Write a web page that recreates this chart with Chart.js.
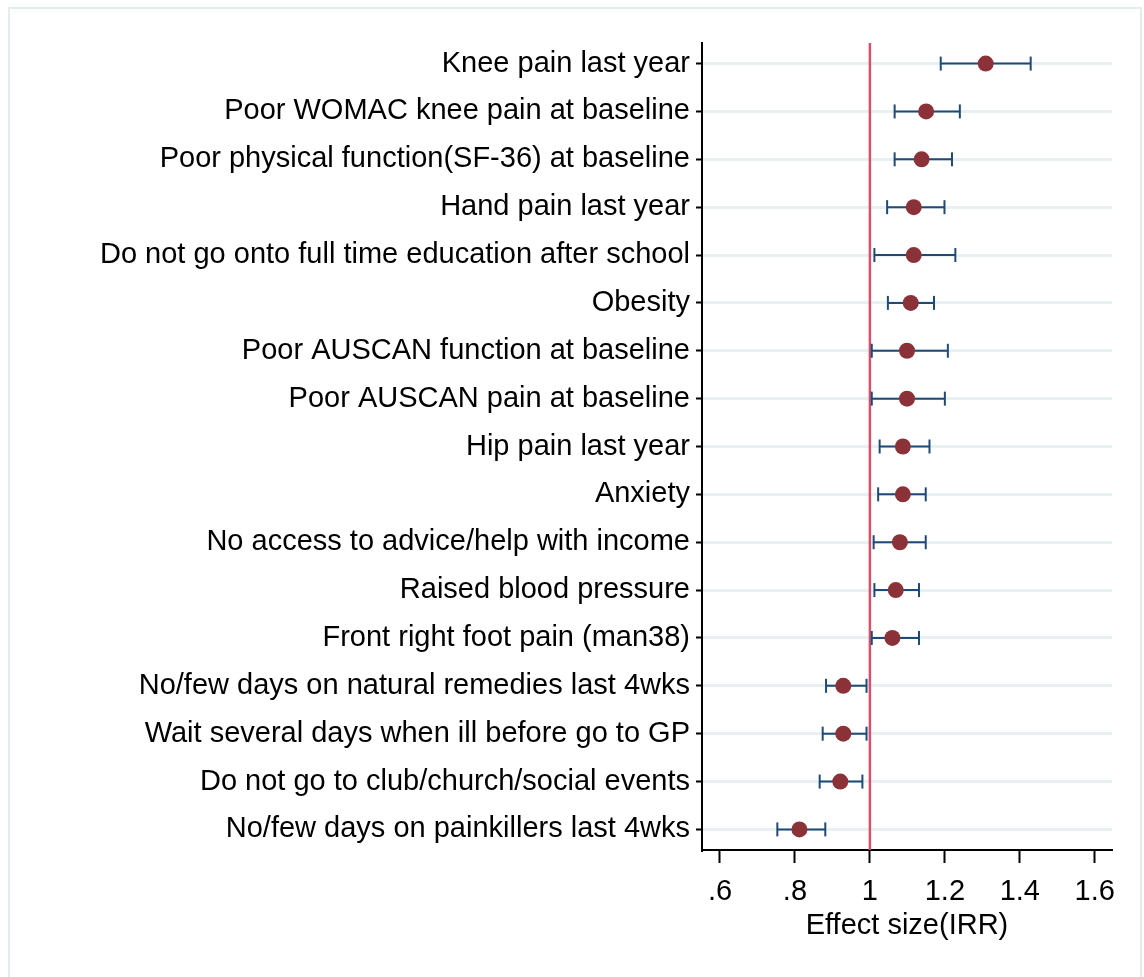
<!DOCTYPE html>
<html>

<head>
	<title>Effect size (IRR)</title>
	<script src="https://cdn.jsdelivr.net/npm/chart.js@4.4.1/dist/chart.umd.min.js"></script>
	<style>
		body { margin: 0; background: #fff; }
		#frame { position: absolute; left: 8px; top: 7px; width: 1130px; height: 990px; border: 2px solid #e3eded; }
		#wrap { position: absolute; left: 0; top: 0; width: 1144px; height: 977px; }
	</style>
</head>

<body>
	<div id="frame"></div>
	<div id="wrap">
		<canvas id="myChart" width="1144" height="977"></canvas>
	</div>
	<script>
		// rows listed top to bottom
		var labels = [
			'Knee pain last year',
			'Poor WOMAC knee pain at baseline',
			'Poor physical function(SF-36) at baseline',
			'Hand pain last year',
			'Do not go onto full time education after school',
			'Obesity',
			'Poor AUSCAN function at baseline',
			'Poor AUSCAN pain at baseline',
			'Hip pain last year',
			'Anxiety',
			'No access to advice/help with income',
			'Raised blood pressure',
			'Front right foot pain (man38)',
			'No/few days on natural remedies last 4wks',
			'Wait several days when ill before go to GP',
			'Do not go to club/church/social events',
			'No/few days on painkillers last 4wks'
		];
		var irr = [1.309, 1.150, 1.138, 1.117, 1.117, 1.109, 1.099, 1.099, 1.088, 1.088, 1.080, 1.069, 1.060, 0.929, 0.929, 0.921, 0.812];
		var lower = [1.189, 1.066, 1.066, 1.046, 1.012, 1.048, 1.005, 1.005, 1.026, 1.022, 1.010, 1.012, 1.005, 0.883, 0.874, 0.866, 0.753];
		var upper = [1.429, 1.240, 1.219, 1.199, 1.228, 1.171, 1.208, 1.200, 1.159, 1.149, 1.149, 1.131, 1.131, 0.991, 0.991, 0.980, 0.881];
		var xTicks = [0.6, 0.8, 1, 1.2, 1.4, 1.6];
		var refValue = 1;

		var n = labels.length;
		var yMin = 0.57, yMax = n + 0.43;
		function rowY(i) { return n - i; }

		var datasets = [];
		// reference line at IRR = 1
		datasets.push({
			type: 'line',
			data: [{ x: refValue, y: yMin }, { x: refValue, y: yMax }],
			borderColor: '#d4526e',
			borderWidth: 2.5,
			pointRadius: 0,
			order: 3
		});
		// confidence intervals with caps
		for (var i = 0; i < n; i++) {
			datasets.push({
				type: 'line',
				data: [{ x: lower[i], y: rowY(i) }, { x: upper[i], y: rowY(i) }],
				borderColor: '#1f4a75',
				borderWidth: 2,
				pointStyle: 'line',
				rotation: 90,
				pointRadius: 7,
				pointBorderColor: '#1f4a75',
				pointBorderWidth: 2,
				order: 2
			});
		}
		// point estimates
		datasets.push({
			type: 'scatter',
			data: irr.map(function (v, i) { return { x: v, y: rowY(i) }; }),
			backgroundColor: '#8b3239',
			borderColor: '#8b3239',
			pointRadius: 8,
			pointBorderWidth: 0,
			order: 1
		});

		var font = { family: "'Liberation Sans', Arial, sans-serif", size: 29 };

		var ctx = document.getElementById("myChart").getContext('2d');
		var myChart = new Chart(ctx, {
			type: 'scatter',
			data: { datasets: datasets },
			options: {
				responsive: false,
				animation: false,
				layout: { padding: { top: 43, right: 32, bottom: 27, left: 0 } },
				plugins: { legend: { display: false }, tooltip: { enabled: false } },
				scales: {
					x: {
						type: 'linear',
						min: 0.552,
						max: 1.646,
						afterBuildTicks: function (scale) {
							scale.ticks = xTicks.map(function (v) { return { value: v }; });
						},
						afterFit: function (scale) { scale.height = 100; },
						ticks: {
							color: '#000',
							font: font,
							padding: 12,
							maxRotation: 0,
							callback: function (v) {
								var s = String(Math.round(v * 10) / 10);
								return s.charAt(0) === '0' ? s.slice(1) : s;
							}
						},
						grid: {
							drawOnChartArea: false,
							tickLength: 13,
							tickColor: '#000',
							tickWidth: 2
						},
						border: { display: true, color: '#000', width: 2 },
						title: {
							display: true,
							text: 'Effect size(IRR)',
							color: '#000',
							font: font,
							padding: { top: 0, bottom: 7 }
						}
					},
					y: {
						type: 'linear',
						min: yMin,
						max: yMax,
						afterBuildTicks: function (scale) {
							scale.ticks = labels.map(function (l, i) { return { value: rowY(i) }; });
						},
						afterFit: function (scale) { scale.width = 702; },
						ticks: {
							color: '#000',
							font: font,
							padding: 6,
							callback: function (v) { return labels[n - v]; }
						},
						grid: {
							color: '#e9f0f2',
							lineWidth: 3,
							tickLength: 6,
							tickColor: '#000',
							tickWidth: 2
						},
						border: { display: true, color: '#000', width: 2 }
					}
				}
			}
		});
	</script>
</body>

</html>
